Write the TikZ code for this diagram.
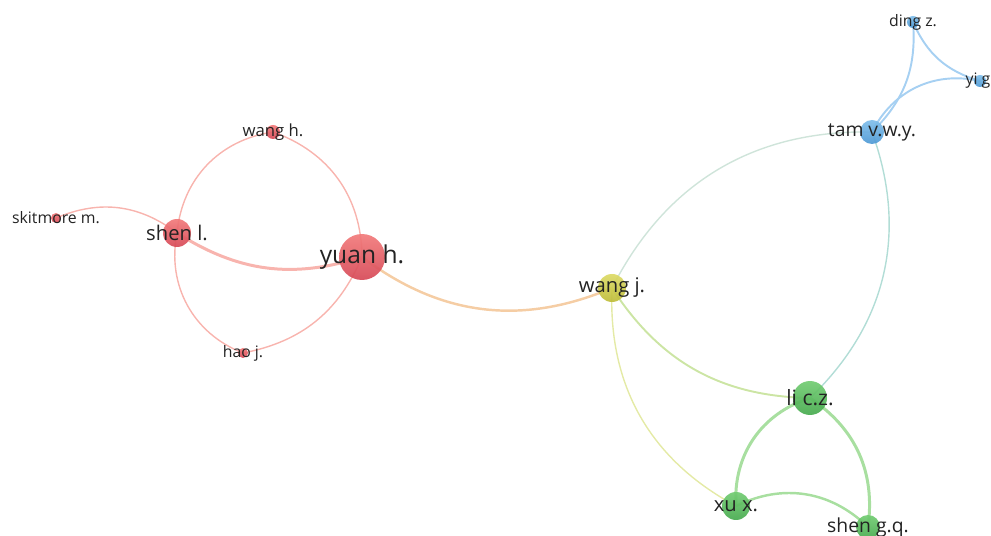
\documentclass[tikz,border=0pt]{standalone}
\usepackage{fontspec}
\setmainfont{Open Sans}
\usepackage{xcolor}
\usepackage{tikz}
\usetikzlibrary{backgrounds}

\definecolor{redtop}{HTML}{F27A7A}
\definecolor{redbot}{HTML}{D64856}
\definecolor{yeltop}{HTML}{DCDA66}
\definecolor{yelbot}{HTML}{BEBC38}
\definecolor{grntop}{HTML}{72CC72}
\definecolor{grnbot}{HTML}{46AA4E}
\definecolor{blutop}{HTML}{80BEEA}
\definecolor{blubot}{HTML}{4C98D4}
\definecolor{redlink}{HTML}{F8B4AE}
\definecolor{orglink}{HTML}{F5CDA4}
\definecolor{yellink}{HTML}{E4EAA6}
\definecolor{grnlink}{HTML}{A8DFA0}
\definecolor{blulink}{HTML}{A6D0F2}
\definecolor{ybllink}{HTML}{CFE4DA}
\definecolor{gbllink}{HTML}{B2DDD6}
\definecolor{labelgray}{HTML}{232323}

\begin{document}
\begin{tikzpicture}[x=0.02cm, y=-0.02cm,
	au/.style={shape=circle, inner sep=0pt, fill opacity=0.92},
	aured/.style={au, top color=redtop, bottom color=redbot},
	auyel/.style={au, top color=yeltop, bottom color=yelbot},
	augrn/.style={au, top color=grntop, bottom color=grnbot},
	aublu/.style={au, top color=blutop, bottom color=blubot},
	lbl/.style={text=labelgray, inner sep=0pt},
	link/.style={line width=0.8pt}]

	\useasboundingbox (0,0) rectangle (991,536);
	\clip (0,0) rectangle (991,536);

	% red cluster
	\node[aured, minimum size=0.92cm] (Yuan) at (362, 257) {};
	\node[aured, minimum size=0.56cm] (ShenL) at (177, 233) {};
	\node[aured, minimum size=0.28cm] (WangH) at (273, 132) {};
	\node[aured, minimum size=0.20cm] (Skitmore) at (56, 218) {};
	\node[aured, minimum size=0.20cm] (Hao) at (243, 353) {};

	% yellow, green and blue clusters
	\node[auyel, minimum size=0.56cm] (WangJ) at (612, 288) {};
	\node[augrn, minimum size=0.68cm] (Li) at (810, 398) {};
	\node[augrn, minimum size=0.56cm] (Xu) at (736, 506) {};
	\node[augrn, minimum size=0.48cm] (ShenGQ) at (868, 527) {};
	\node[aublu, minimum size=0.48cm] (Tam) at (872, 132) {};
	\node[aublu, minimum size=0.24cm] (Ding) at (913, 22) {};
	\node[aublu, minimum size=0.24cm] (Yi) at (980, 81) {};

	% labels
	\node[lbl, font=\fontsize{14}{14}\selectfont] at (Yuan) {yuan h.};
	\node[lbl, font=\fontsize{11.5}{12}\selectfont] at (ShenL) {shen l.};
	\node[lbl, font=\fontsize{9.5}{10}\selectfont] at (WangH) {wang h.};
	\node[lbl, font=\fontsize{9}{10}\selectfont] at (Skitmore) {skitmore m.};
	\node[lbl, font=\fontsize{9}{10}\selectfont] at (Hao) {hao j.};
	\node[lbl, font=\fontsize{11.5}{12}\selectfont] at (WangJ) {wang j.};
	\node[lbl, font=\fontsize{12}{12}\selectfont] at (Li) {li c.z.};
	\node[lbl, font=\fontsize{11.5}{12}\selectfont] at (Xu) {xu x.};
	\node[lbl, font=\fontsize{11}{12}\selectfont] at (ShenGQ) {shen g.q.};
	\node[lbl, font=\fontsize{11}{12}\selectfont] at (Tam) {tam v.w.y.};
	\node[lbl, font=\fontsize{9}{10}\selectfont] at (Ding) {ding z.};
	\node[lbl, font=\fontsize{9}{10}\selectfont] at (Yi) {yi g.};

	\begin{scope}[on background layer]
		\draw[link, redlink] (Skitmore.center) to[bend left=30] (ShenL.center);
		\draw[link, redlink, line width=1.7pt] (ShenL.center) to[bend right=25] (Yuan.center);
		\draw[link, redlink] (ShenL.center) to[bend left=38] (WangH.center);
		\draw[link, redlink] (WangH.center) to[bend left=35] (Yuan.center);
		\draw[link, redlink] (ShenL.center) to[bend right=40] (Hao.center);
		\draw[link, redlink] (Hao.center) to[bend right=28] (Yuan.center);
		\draw[link, orglink, line width=1.4pt] (Yuan.center) to[bend right=30] (WangJ.center);
		\draw[link, ybllink] (WangJ.center) to[bend left=32] (Tam.center);
		\draw[link, gbllink] (Tam.center) to[bend left=33] (Li.center);
		\draw[link, yellink!60!grnlink, line width=1.1pt] (WangJ.center) to[bend right=28] (Li.center);
		\draw[link, yellink] (WangJ.center) to[bend right=32] (Xu.center);
		\draw[link, grnlink, line width=1.7pt] (Li.center) to[bend right=38] (Xu.center);
		\draw[link, grnlink, line width=1.7pt] (Li.center) to[bend left=32] (ShenGQ.center);
		\draw[link, grnlink, line width=1.4pt] (Xu.center) to[bend left=35] (ShenGQ.center);
		\draw[link, blulink, line width=1.1pt] (Tam.center) to[bend right=25] (Ding.center);
		\draw[link, blulink, line width=1.1pt] (Tam.center) to[bend left=38] (Yi.center);
		\draw[link, blulink, line width=1.1pt] (Ding.center) to[bend right=25] (Yi.center);
	\end{scope}

\end{tikzpicture}
\end{document}
